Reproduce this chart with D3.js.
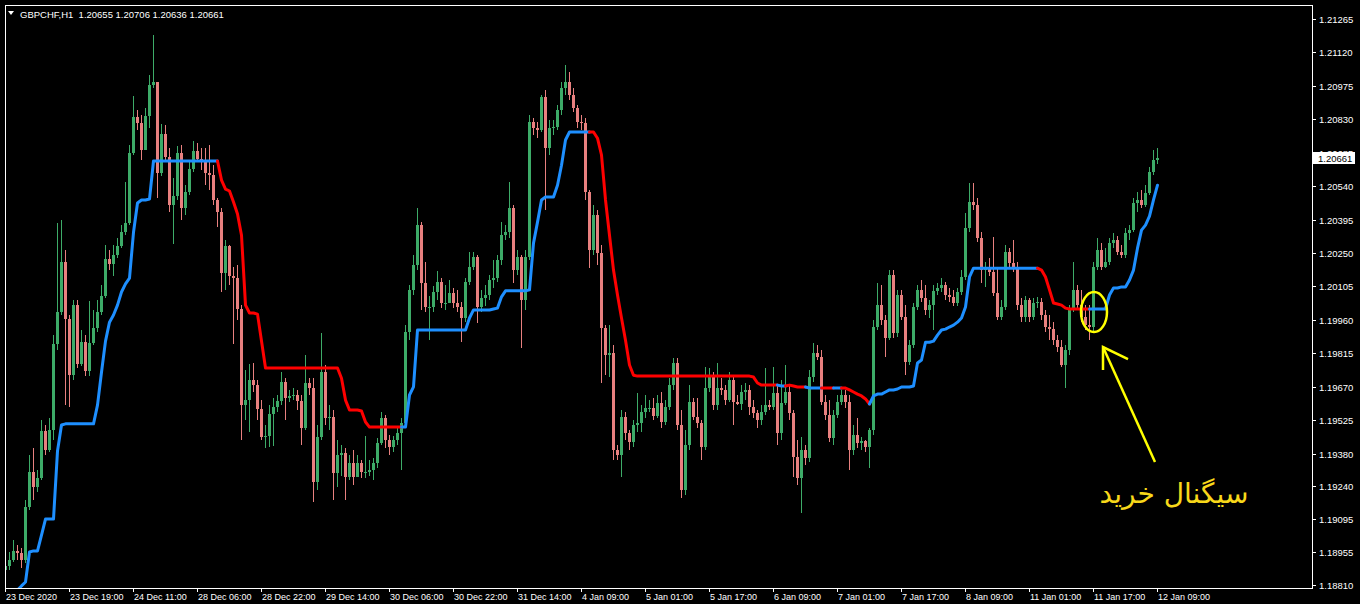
<!DOCTYPE html>
<html><head><meta charset="utf-8">
<script src="https://cdn.jsdelivr.net/npm/d3@7"></script>
<style>html,body{margin:0;padding:0;background:#000;overflow:hidden}</style>
</head><body>
<svg id="chart" width="1360" height="604"></svg>
<script>
const symbolTitle = "GBPCHF,H1  1.20655 1.20706 1.20636 1.20661";
const firstOpen = 1.18875;
const closes = [
1.18892,1.18918,1.18958,1.18949,1.18918,1.19149,1.19300,1.19235,1.19274,1.19478,
1.19395,1.19482,1.19855,1.19994,1.20210,1.19964,1.19720,1.20024,1.19769,1.19863,
1.19738,1.19859,1.19924,1.19994,1.20064,1.20224,1.20202,1.20241,1.20280,1.20340,
1.20380,1.20683,1.20840,1.20814,1.20696,1.20844,1.20978,1.20991,1.20597,1.20766,
1.20666,1.20458,1.20497,1.20683,1.20445,1.20514,1.20614,1.20692,1.20657,1.20653,
1.20597,1.20588,1.20480,1.20427,1.20163,1.20280,1.20150,1.20141,1.20007,1.19590,
1.19612,1.19699,1.19677,1.19573,1.19452,1.19456,1.19552,1.19582,1.19608,1.19690,
1.19621,1.19630,1.19634,1.19608,1.19491,1.19686,1.19664,1.19256,1.19452,1.19733,
1.19534,1.19539,1.19296,1.19373,1.19382,1.19279,1.19339,1.19279,1.19339,1.19300,
1.19300,1.19309,1.19339,1.19426,1.19534,1.19439,1.19409,1.19439,1.19469,1.19513,
1.19907,1.20090,1.20197,1.20371,1.20120,1.20016,1.20016,1.20081,1.20124,1.20033,
1.20033,1.20077,1.20033,1.20016,1.19968,1.20124,1.20189,1.20233,1.20016,1.20055,
1.20068,1.20133,1.20141,1.20219,1.20327,1.20340,1.20445,1.20176,1.20233,1.20046,
1.20233,1.20818,1.20792,1.20783,1.20927,1.20705,1.20792,1.20797,1.20870,1.20965,
1.20991,1.20935,1.20878,1.20818,1.20814,1.20514,1.20263,1.20414,1.20250,1.19924,
1.19807,1.19816,1.19395,1.19373,1.19539,1.19469,1.19430,1.19504,1.19513,1.19560,
1.19577,1.19577,1.19543,1.19599,1.19517,1.19582,1.19677,1.19773,1.19504,1.19222,
1.19417,1.19603,1.19539,1.19513,1.19409,1.19664,1.19720,1.19590,1.19664,1.19656,
1.19612,1.19699,1.19603,1.19595,1.19647,1.19656,1.19582,1.19556,1.19526,1.19560,
1.19590,1.19582,1.19643,1.19469,1.19599,1.19647,1.19556,1.19365,1.19274,1.19395,
1.19360,1.19712,1.19816,1.19799,1.19603,1.19547,1.19447,1.19547,1.19603,1.19634,
1.19603,1.19395,1.19460,1.19426,1.19435,1.19409,1.19482,1.19929,1.20024,1.19959,
1.19881,1.20154,1.19903,1.20068,1.19973,1.19777,1.19850,1.20016,1.20090,1.20055,
1.20003,1.20024,1.20086,1.20098,1.20111,1.20068,1.20060,1.20033,1.20081,1.20146,
1.20358,1.20471,1.20458,1.20314,1.20176,1.20184,1.20167,1.20077,1.19973,1.20016,
1.20254,1.20206,1.20184,1.20024,1.19973,1.20046,1.19973,1.20033,1.20037,1.19981,
1.19929,1.19920,1.19872,1.19842,1.19764,1.19829,1.20003,1.20090,1.20024,1.19973,
1.19937,1.19929,1.20189,1.20263,1.20189,1.20210,1.20293,1.20306,1.20254,1.20241,
1.20336,1.20349,1.20467,1.20480,1.20458,1.20510,1.20601,1.20655,1.20661
];
const highs = [
1.18940,1.18953,1.19005,1.18983,1.18970,1.19179,1.19373,1.19404,1.19309,1.19526,
1.19504,1.19534,1.19894,1.20380,1.20393,1.20263,1.19981,1.20046,1.20046,1.19916,
1.19894,1.20042,1.20003,1.20046,1.20111,1.20284,1.20263,1.20284,1.20314,1.20371,
1.20557,1.20718,1.20931,1.20870,1.20848,1.20878,1.21021,1.21195,1.20987,1.20810,
1.20805,1.20705,1.20575,1.20714,1.20718,1.20544,1.20653,1.20736,1.20727,1.20705,
1.20705,1.20718,1.20631,1.20488,1.20445,1.20306,1.20284,1.20189,1.20197,1.20024,
1.19742,1.19769,1.19773,1.19699,1.19612,1.19504,1.19590,1.19621,1.19634,1.19733,
1.19707,1.19656,1.19664,1.19656,1.19634,1.19807,1.19707,1.19707,1.19504,1.19903,
1.19764,1.19590,1.19569,1.19439,1.19417,1.19404,1.19373,1.19395,1.19373,1.19352,
1.19456,1.19352,1.19360,1.19447,1.19560,1.19547,1.19460,1.19456,1.19491,1.19534,
1.19937,1.20111,1.20241,1.20445,1.20384,1.20210,1.20064,1.20107,1.20172,1.20141,
1.20111,1.20133,1.20098,1.20090,1.20037,1.20141,1.20254,1.20254,1.20241,1.20090,
1.20111,1.20154,1.20219,1.20241,1.20384,1.20371,1.20557,1.20458,1.20263,1.20241,
1.20263,1.20848,1.20835,1.20818,1.20935,1.20957,1.20827,1.20827,1.20891,1.20991,
1.21065,1.21034,1.20965,1.20891,1.20848,1.20835,1.20523,1.20458,1.20436,1.20284,
1.19937,1.19937,1.19850,1.19417,1.19569,1.19560,1.19482,1.19526,1.19643,1.19590,
1.19634,1.19612,1.19621,1.19634,1.19647,1.19612,1.19707,1.19795,1.19795,1.19569,
1.19482,1.19677,1.19621,1.19621,1.19526,1.19755,1.19751,1.19733,1.19773,1.19707,
1.19677,1.19733,1.19720,1.19634,1.19677,1.19686,1.19677,1.19612,1.19569,1.19590,
1.19751,1.19612,1.19755,1.19677,1.19699,1.19764,1.19677,1.19569,1.19439,1.19452,
1.19417,1.19742,1.19859,1.19850,1.19829,1.19634,1.19612,1.19569,1.19634,1.19656,
1.19656,1.19634,1.19504,1.19534,1.19452,1.19439,1.19491,1.19959,1.20120,1.20111,
1.19981,1.20176,1.20176,1.20090,1.20090,1.20024,1.19872,1.20033,1.20111,1.20133,
1.20111,1.20046,1.20111,1.20120,1.20141,1.20124,1.20098,1.20090,1.20098,1.20176,
1.20423,1.20553,1.20553,1.20488,1.20340,1.20210,1.20228,1.20319,1.20184,1.20046,
1.20284,1.20271,1.20306,1.20210,1.20055,1.20064,1.20055,1.20055,1.20060,1.20055,
1.20003,1.19981,1.19950,1.19894,1.19872,1.19850,1.20024,1.20210,1.20111,1.20090,
1.20024,1.20024,1.20210,1.20314,1.20293,1.20271,1.20314,1.20336,1.20323,1.20284,
1.20358,1.20371,1.20488,1.20514,1.20523,1.20544,1.20623,1.20696,1.20706
];
const lows = [
1.18853,1.18875,1.18909,1.18918,1.18883,1.18905,1.19135,1.19179,1.19213,1.19265,
1.19373,1.19386,1.19439,1.19829,1.19981,1.19590,1.19582,1.19699,1.19751,1.19760,
1.19716,1.19716,1.19850,1.19907,1.19981,1.20055,1.20176,1.20150,1.20228,1.20271,
1.20327,1.20371,1.20674,1.20783,1.20653,1.20705,1.20792,1.20965,1.20488,1.20584,
1.20653,1.20427,1.20289,1.20480,1.20393,1.20414,1.20501,1.20601,1.20644,1.20610,
1.20544,1.20523,1.20458,1.20363,1.20081,1.20090,1.20111,1.19855,1.19959,1.19439,
1.19526,1.19473,1.19647,1.19526,1.19439,1.19404,1.19409,1.19413,1.19560,1.19590,
1.19526,1.19603,1.19612,1.19569,1.19417,1.19482,1.19634,1.19170,1.19222,1.19439,
1.19504,1.19482,1.19179,1.19235,1.19283,1.19179,1.19265,1.19243,1.19309,1.19274,
1.19274,1.19283,1.19265,1.19317,1.19417,1.19404,1.19373,1.19386,1.19417,1.19309,
1.19491,1.19872,1.20068,1.20176,1.20003,1.19994,1.19872,1.19994,1.20046,1.20011,
1.20003,1.20046,1.20011,1.19994,1.19863,1.19950,1.20111,1.20176,1.19946,1.19994,
1.20020,1.20046,1.20098,1.20124,1.20197,1.20306,1.20314,1.20120,1.20154,1.19838,
1.20003,1.20219,1.20761,1.20748,1.20774,1.20436,1.20674,1.20761,1.20783,1.20848,
1.20935,1.20913,1.20861,1.20792,1.20783,1.20480,1.20184,1.20241,1.20197,1.19686,
1.19720,1.19712,1.19352,1.19352,1.19279,1.19439,1.19395,1.19409,1.19473,1.19473,
1.19534,1.19560,1.19526,1.19534,1.19491,1.19504,1.19569,1.19656,1.19482,1.19187,
1.19200,1.19395,1.19526,1.19491,1.19352,1.19395,1.19647,1.19569,1.19569,1.19634,
1.19590,1.19603,1.19504,1.19590,1.19569,1.19612,1.19547,1.19534,1.19491,1.19504,
1.19547,1.19569,1.19569,1.19417,1.19439,1.19590,1.19526,1.19279,1.19243,1.19122,
1.19330,1.19343,1.19690,1.19786,1.19590,1.19526,1.19430,1.19417,1.19534,1.19590,
1.19577,1.19309,1.19373,1.19404,1.19395,1.19386,1.19317,1.19460,1.19916,1.19937,
1.19799,1.19872,1.19881,1.19885,1.19959,1.19720,1.19764,1.19838,1.20003,1.20037,
1.19981,1.19968,1.19916,1.20068,1.20081,1.20046,1.20037,1.20020,1.20020,1.20068,
1.20133,1.20340,1.20436,1.20297,1.20120,1.20103,1.20150,1.20064,1.19959,1.19959,
1.20003,1.20184,1.20167,1.20003,1.19950,1.19950,1.19950,1.19959,1.20011,1.19959,
1.19907,1.19872,1.19850,1.19820,1.19755,1.19664,1.19807,1.19994,1.20011,1.19950,
1.19916,1.19872,1.19903,1.20176,1.20176,1.20184,1.20197,1.20271,1.20241,1.20228,
1.20228,1.20306,1.20340,1.20427,1.20445,1.20449,1.20501,1.20588,1.20636
];
const trailLine = [
1.18745,1.18758,1.18771,1.18788,1.18806,1.18823,1.18953,1.18958,1.18958,1.19026,
1.19096,1.19096,1.19096,1.19391,1.19504,1.19509,1.19509,1.19509,1.19509,1.19509,
1.19509,1.19509,1.19509,1.19590,1.19733,1.19868,1.19950,1.19981,1.20024,1.20081,
1.20116,1.20141,1.20340,1.20467,1.20480,1.20480,1.20484,1.20649,1.20649,1.20649,
1.20649,1.20649,1.20649,1.20649,1.20649,1.20649,1.20649,1.20649,1.20649,1.20649,
1.20649,1.20649,1.20649,1.20649,1.20566,1.20527,1.20519,1.20471,1.20419,1.20327,
1.20024,1.19990,1.19990,1.19985,1.19868,1.19751,1.19751,1.19751,1.19751,1.19751,
1.19751,1.19751,1.19751,1.19751,1.19751,1.19751,1.19751,1.19751,1.19751,1.19751,
1.19751,1.19751,1.19751,1.19751,1.19707,1.19612,1.19569,1.19569,1.19569,1.19565,
1.19517,1.19495,1.19495,1.19495,1.19495,1.19495,1.19495,1.19495,1.19495,1.19495,
1.19495,1.19634,1.19669,1.19916,1.19916,1.19916,1.19916,1.19916,1.19916,1.19916,
1.19916,1.19916,1.19916,1.19916,1.19916,1.19916,1.19968,1.20003,1.20003,1.20003,
1.20003,1.20003,1.20007,1.20011,1.20060,1.20086,1.20086,1.20086,1.20086,1.20086,
1.20086,1.20090,1.20293,1.20384,1.20480,1.20493,1.20493,1.20493,1.20544,1.20631,
1.20740,1.20775,1.20775,1.20775,1.20775,1.20775,1.20775,1.20775,1.20748,1.20675,
1.20480,1.20327,1.20176,1.20068,1.19968,1.19872,1.19764,1.19720,1.19716,1.19716,
1.19716,1.19716,1.19716,1.19716,1.19716,1.19716,1.19716,1.19716,1.19716,1.19716,
1.19716,1.19716,1.19716,1.19716,1.19716,1.19716,1.19716,1.19716,1.19716,1.19716,
1.19716,1.19716,1.19716,1.19716,1.19716,1.19716,1.19716,1.19712,1.19686,1.19677,
1.19677,1.19677,1.19677,1.19677,1.19673,1.19673,1.19677,1.19673,1.19669,1.19669,
1.19669,1.19664,1.19664,1.19664,1.19664,1.19664,1.19664,1.19664,1.19664,1.19664,
1.19664,1.19656,1.19647,1.19638,1.19630,1.19617,1.19595,1.19630,1.19638,1.19638,
1.19647,1.19656,1.19656,1.19660,1.19669,1.19669,1.19669,1.19673,1.19773,1.19786,
1.19863,1.19863,1.19868,1.19894,1.19916,1.19920,1.19929,1.19937,1.19950,1.19968,
1.20016,1.20146,1.20184,1.20184,1.20184,1.20184,1.20184,1.20184,1.20184,1.20184,
1.20184,1.20184,1.20184,1.20184,1.20184,1.20184,1.20184,1.20184,1.20184,1.20176,
1.20146,1.20090,1.20033,1.20029,1.20024,1.20011,1.20007,1.20007,1.20007,1.20007,
1.20007,1.20007,1.20007,1.20007,1.20007,1.20007,1.20068,1.20098,1.20098,1.20103,
1.20103,1.20133,1.20176,1.20271,1.20349,1.20371,1.20410,1.20480,1.20544
];
// [firstBar, lastBar, direction]  1 = up (blue), -1 = down (red)
const trendRuns = [[0,53,1],[54,99,-1],[100,146,1],[147,193,-1],[194,195,1],[196,200,-1],
  [201,204,1],[205,207,-1],[208,209,1],[210,216,-1],[217,258,1],[259,271,-1],[272,288,1]];
const timeLabels = ["23 Dec 2020","23 Dec 19:00","24 Dec 11:00","28 Dec 06:00","28 Dec 22:00",
  "29 Dec 14:00","30 Dec 06:00","30 Dec 22:00","31 Dec 14:00","4 Jan 09:00","5 Jan 01:00",
  "5 Jan 17:00","6 Jan 09:00","7 Jan 01:00","7 Jan 17:00","8 Jan 09:00","11 Jan 01:00",
  "11 Jan 17:00","12 Jan 09:00"];
const timeLabelEvery = 16;
const priceTicks = ["1.21265","1.21120","1.20975","1.20830","1.20685","1.20540","1.20395",
  "1.20250","1.20105","1.19960","1.19815","1.19670","1.19525","1.19380","1.19240","1.19095",
  "1.18955","1.18810"];
const lastPrice = "1.20661";
const signalBar = 272;
const signalText = "سیگنال خرید";

const svg = d3.select("#chart");
svg.append("rect").attr("width",1360).attr("height",604).attr("fill","#000");

const plot = {left:5, top:5, right:1312, bottom:588};
const n = closes.length;
const x = d3.scaleLinear().domain([0, n-1]).range([5, 5 + 4*(n-1)]);
const y = d3.scaleLinear().domain([+priceTicks[priceTicks.length-1], +priceTicks[0]]).range([585, 19]);

svg.append("clipPath").attr("id","clip").append("rect")
  .attr("x",plot.left+1).attr("y",plot.top+1)
  .attr("width",plot.right-plot.left-1).attr("height",plot.bottom-plot.top-1);

const bars = closes.map((c,i)=>({i, o: i===0 ? firstOpen : closes[i-1], h: highs[i], l: lows[i], c}));
const bullCol = "#3dab68", bearCol = "#e8807f";
const gC = svg.append("g").attr("clip-path","url(#clip)").attr("shape-rendering","crispEdges");
gC.selectAll("line.wick").data(bars).join("line").attr("class","wick")
  .attr("x1",d=>Math.round(x(d.i))+0.5).attr("x2",d=>Math.round(x(d.i))+0.5)
  .attr("y1",d=>y(Math.max(d.h,d.o,d.c))).attr("y2",d=>y(Math.min(d.l,d.o,d.c)))
  .attr("stroke",d=>d.c>=d.o?bullCol:bearCol).attr("stroke-width",1);
gC.selectAll("rect.body").data(bars).join("rect").attr("class","body")
  .attr("x",d=>Math.round(x(d.i))-1).attr("width",3)
  .attr("y",d=>y(Math.max(d.o,d.c)))
  .attr("height",d=>Math.max(1, Math.abs(y(d.o)-y(d.c))))
  .attr("fill",d=>d.c>=d.o?bullCol:bearCol);

const gL = svg.append("g").attr("clip-path","url(#clip)");
const lineGen = d3.line().x(d=>Math.round(x(d))+0.5).y(d=>y(trailLine[d]));
trendRuns.forEach(([s,e,t])=>{
  gL.append("path").attr("d", lineGen(d3.range(Math.max(0,s-1), e+1)))
    .attr("fill","none").attr("stroke", t>0 ? "#1e8fff" : "#ff0000")
    .attr("stroke-width",3).attr("stroke-linejoin","round").attr("stroke-linecap","round");
});

// frame
svg.append("rect").attr("x",plot.left+0.5).attr("y",plot.top+0.5)
  .attr("width",plot.right-plot.left).attr("height",plot.bottom-plot.top)
  .attr("fill","none").attr("stroke","#fff").attr("stroke-width",1).attr("shape-rendering","crispEdges");

// price axis
const fontFam = "'Liberation Sans', Arial, sans-serif";
const gY = svg.append("g").attr("shape-rendering","crispEdges");
const yLast = y(+lastPrice);
priceTicks.forEach(t=>{
  const yy = Math.round(y(+t))+0.5;
  gY.append("line").attr("x1",plot.right+0.5).attr("x2",plot.right+4).attr("y1",yy).attr("y2",yy).attr("stroke","#fff");
  // a label that sits under the current-price box is only partly visible (as in the terminal)
  if (Math.abs(y(+t) - yLast) < 12) {
    gY.append("clipPath").attr("id","clipHidden").append("rect")
      .attr("x",plot.right+1).attr("y",yy-8).attr("width",48).attr("height",Math.round(yLast)-6-(yy-8));
    gY.append("text").attr("x",plot.right+7).attr("y",yy+3.5).attr("fill","#fff")
      .attr("clip-path","url(#clipHidden)")
      .attr("font-family",fontFam).attr("font-size","9.5px").text(t);
  } else {
    gY.append("text").attr("x",plot.right+7).attr("y",yy+3.5).attr("fill","#fff")
      .attr("font-family",fontFam).attr("font-size","9.5px").text(t);
  }
});
// current price label
svg.append("rect").attr("x",plot.right+1).attr("y",Math.round(yLast)-6).attr("width",42).attr("height",12).attr("fill","#fff");
svg.append("text").attr("x",plot.right+6).attr("y",Math.round(yLast)+3.5).attr("fill","#000")
  .attr("font-family",fontFam).attr("font-size","9.5px").text(lastPrice);

// time axis
const gX = svg.append("g");
timeLabels.forEach((lab,k)=>{
  const xx = Math.round(x(k*timeLabelEvery))+0.5;
  gX.append("line").attr("x1",xx).attr("x2",xx).attr("y1",plot.bottom+0.5).attr("y2",plot.bottom+4).attr("stroke","#fff").attr("shape-rendering","crispEdges");
  gX.append("text").attr("x",xx+0.5).attr("y",600).attr("fill","#fff")
    .attr("font-family",fontFam).attr("font-size","9px").text(lab);
});

// title
svg.append("path").attr("d","M8,11 L14,11 L11,15 Z").attr("fill","#fff");
svg.append("text").attr("x",20).attr("y",18).attr("fill","#fff")
  .attr("font-family",fontFam).attr("font-size","9.5px").attr("xml:space","preserve").style("white-space","pre").text(symbolTitle);

// annotation
const cx = x(signalBar)+1, cy = y(trailLine[signalBar])+3;
const yellow = "#ffff00";
svg.append("ellipse").attr("cx",cx).attr("cy",cy).attr("rx",13).attr("ry",20)
  .attr("fill","none").attr("stroke",yellow).attr("stroke-width",2.5);
svg.append("line").attr("x1",cx+61).attr("y1",cy+150).attr("x2",cx+9).attr("y2",cy+35)
  .attr("stroke",yellow).attr("stroke-width",2.5);
svg.append("path").attr("d",`M${cx+9},${cy+58} L${cx+9},${cy+35} L${cx+34},${cy+47}`)
  .attr("fill","none").attr("stroke",yellow).attr("stroke-width",2.5);
svg.append("text").attr("x",cx+80).attr("y",cy+191).attr("text-anchor","middle")
  .attr("fill","#f8d81a").attr("font-family","'DejaVu Sans', sans-serif").attr("font-size","28px")
  .attr("direction","rtl").text(signalText);
</script>
</body></html>
